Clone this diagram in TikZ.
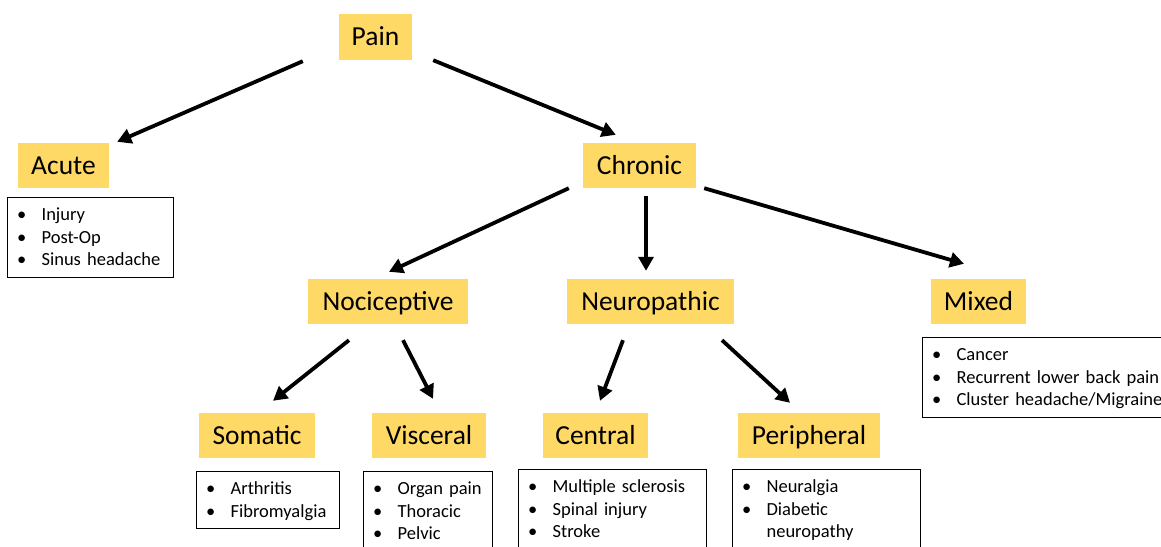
\documentclass[tikz,border=0pt]{standalone}
\usepackage{fontspec}
\setmainfont{Carlito}
\usetikzlibrary{arrows.meta,calc}
\definecolor{labelyellow}{HTML}{FFD966}
\newcommand{\bfirst}[1]{\noindent\rule[-4.5pt]{0pt}{20.5pt}\makebox[34pt][l]{\hspace{9.5pt}\textbullet}#1}
\newcommand{\bitem}[1]{\par\noindent\rule[-4.5pt]{0pt}{22.5pt}\makebox[34pt][l]{\hspace{9.5pt}\textbullet}#1}
\newcommand{\bcont}[1]{\par\noindent\rule[-4.5pt]{0pt}{22.5pt}\hspace{34pt}#1}
\begin{document}
\begin{tikzpicture}[x=1pt,y=-1pt,
  lab/.style={fill=labelyellow, inner sep=0pt, text height=17.7pt, text depth=0pt,
    font=\fontsize{27.5}{30}\selectfont, minimum height=45pt},
  listbox/.style={draw=black, line width=1.2pt, anchor=north west, inner xsep=0pt,
    inner ysep=7pt, align=left, font=\fontsize{18.5}{22.5}\selectfont},
  arr/.style={line width=3.8pt, -{Triangle[length=14pt,width=15pt]}}]
\useasboundingbox (0,0) rectangle (1161,546);
\clip (0,0) rectangle (1161,546);

% category labels
\node[lab, minimum width=73pt, minimum height=46pt] (pain) at (375.5,37) {Pain};
\node[lab, minimum width=91pt] (acute) at (63.5,165.5) {Acute};
\node[lab, minimum width=113pt] (chronic) at (639.5,165.5) {Chronic};
\node[lab, minimum width=160pt] (noci) at (388,301.5) {Nociceptive};
\node[lab, minimum width=167pt] (neuro) at (650.5,301.5) {Neuropathic};
\node[lab, minimum width=95pt] (mixed) at (978.5,301.5) {Mixed};
\node[lab, minimum width=116pt] (somatic) at (257,435.5) {Somatic};
\node[lab, minimum width=114pt] (visceral) at (429,435.5) {Visceral};
\node[lab, minimum width=105pt] (central) at (595.5,435.5) {Central};
\node[lab, minimum width=142pt] (peripheral) at (809,435.5) {Peripheral};

% example lists
\node[listbox, text width=166pt] (acutelist) at (7,197)
  {\bfirst{Injury}\bitem{Post-Op}\bitem{Sinus headache}};
\node[listbox, text width=252pt] (mixedlist) at (922,337)
  {\bfirst{Cancer}\bitem{Recurrent lower back pain}\bitem{Cluster headache/Migraine}};
\node[listbox, text width=143pt] (somaticlist) at (196,471)
  {\bfirst{Arthritis}\bitem{Fibromyalgia}};
\node[listbox, text width=129pt] (viscerallist) at (363,471)
  {\bfirst{Organ pain}\bitem{Thoracic}\bitem{Pelvic}};
\node[listbox, text width=188pt] (centrallist) at (518,469)
  {\bfirst{Multiple sclerosis}\bitem{Spinal injury}\bitem{Stroke}};
\node[listbox, text width=188pt] (peripherallist) at (732,469)
  {\bfirst{Neuralgia}\bitem{Diabetic}\bcont{neuropathy}};

% connectors
\draw[arr] ($(pain.south west)+(-36,1)$) -- ($(acute.north east)+(8,-1)$);
\draw[arr] ($(pain.south east)+(21,0)$) -- ($(chronic.north west)+(33,-8)$);
\draw[arr] ($(chronic.south west)+(-14,0)$) -- ($(noci.north)+(1,-7)$);
\draw[arr] ($(chronic.south)+(6.5,8)$) -- ($(neuro.north)+(-4.5,-8)$);
\draw[arr] ($(chronic.south east)+(8,0)$) -- ($(mixed.north)+(-14.5,-15)$);
\draw[arr] ($(noci.south)+(-39,16)$) -- ($(somatic.north)+(16,-12)$);
\draw[arr] ($(noci.south)+(15,16)$) -- ($(visceral.north)+(4,-14)$);
\draw[arr] ($(neuro.south)+(-27.5,16)$) -- ($(central.north)+(4.5,-12)$);
\draw[arr] ($(neuro.south)+(71.5,16)$) -- ($(peripheral.north)+(-19,-10)$);
\end{tikzpicture}
\end{document}
